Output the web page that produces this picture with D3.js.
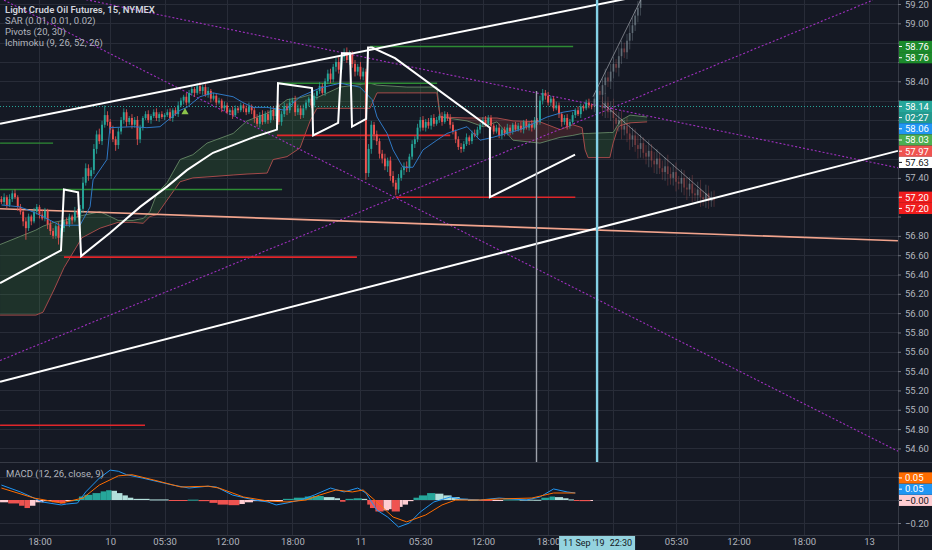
<!DOCTYPE html>
<html><head><meta charset="utf-8">
<script src="https://cdn.jsdelivr.net/npm/d3@7"></script>
<style>
html,body{margin:0;padding:0;background:#151924;}
svg{display:block;font-family:Roboto,"Liberation Sans",sans-serif;}
</style></head><body>
<svg id="c" width="932" height="550"></svg>
<script>
// ---------------- DATA ----------------
const priceTicks=[59.2,59.0,58.8,58.6,58.4,58.2,58.0,57.8,57.6,57.4,57.2,57.0,56.8,56.6,56.4,56.2,56.0,55.8,55.6,55.4,55.2,55.0,54.8,54.6];
const macdTicks=[0.2,0,-0.2];
const timeIdx=[14,40,60,83,107,132,154,177,201,225,248,271,295,319];
const timeLbl=["18:00","10","05:30","12:00","18:00","11","05:30","12:00","18:00","12","05:30","12:00","18:00","13"];
const cursorIdx=219;
const cursorDate="11 Sep '19", cursorTime="22:30";

const firstOpen=57.18;
const closes=[
57.15,57.20,57.12,57.18,57.24,57.20,57.10,57.05,56.95,56.88,
57.00,56.95,57.05,57.10,57.02,56.98,57.06,56.92,56.85,56.80,
56.90,56.78,56.88,56.95,56.92,57.00,56.96,57.05,57.02,57.08,
57.35,57.50,57.42,57.48,57.70,57.85,57.78,57.95,58.05,57.98,
57.90,57.80,57.74,57.88,58.00,58.08,57.98,58.02,57.95,58.00,
57.80,57.92,58.02,58.06,58.00,58.04,58.08,58.02,58.06,58.03,
58.05,58.08,58.02,58.10,58.06,58.15,58.20,58.24,58.18,58.28,
58.32,58.28,58.35,58.30,58.34,58.26,58.30,58.22,58.25,58.18,
58.20,58.12,58.15,58.08,58.10,58.05,58.12,58.10,58.15,58.12,
58.08,58.14,58.10,58.02,57.96,58.05,57.98,58.06,58.00,58.10,
58.04,58.12,57.98,58.06,58.14,58.10,58.18,58.20,58.08,58.12,
58.05,58.12,58.18,58.22,58.15,58.25,58.30,58.35,58.28,58.40,
58.48,58.42,58.55,58.60,58.52,58.65,58.70,58.62,58.68,58.58,
58.50,58.55,58.45,58.50,57.45,57.70,57.95,57.85,57.78,57.65,
57.60,57.52,57.58,57.42,57.35,57.28,57.40,57.48,57.52,57.50,
57.62,57.75,57.80,57.92,58.00,57.92,57.98,57.94,58.02,57.96,
58.00,58.04,57.98,58.06,58.02,57.95,57.88,57.80,57.72,57.70,
57.75,57.82,57.78,57.86,57.84,57.90,57.95,58.00,57.96,58.02,
57.94,57.88,57.92,57.84,57.90,57.86,57.92,57.88,57.95,57.90,
57.94,57.90,57.98,57.92,57.96,57.92,58.00,57.98,58.20,58.28,
58.25,58.18,58.22,58.12,58.15,58.06,57.98,58.02,57.94,57.98,
58.05,58.10,58.06,58.14,58.12,58.18,58.15,58.14];
// wick extents in cents above / below the candle body
const wickUp=[
3,4,2,5,3,4,2,3,2,4, 3,2,4,3,2,5,3,2,4,3, 2,4,3,2,4,3,2,5,3,4, 6,5,4,3,5,4,6,4,10,4,
3,4,3,4,3,4,3,2,4,3, 4,3,2,3,4,2,3,4,2,3, 2,3,4,2,3,4,3,2,4,3, 4,2,3,4,2,3,4,2,3,2,
3,2,4,3,2,4,3,2,3,2, 3,4,2,3,4,3,5,3,4,3, 4,3,5,3,4,3,4,3,5,4, 3,4,3,2,4,3,2,4,3,3,
4,5,3,4,5,3,4,5,4,3, 4,3,5,4,3,5,4,3,4,3, 4,5,3,4,5,3,4,3,4,5, 3,4,3,4,3,4,3,4,3,4,
3,2,4,3,2,4,3,2,3,4, 3,4,2,3,4,3,2,3,4,3, 3,2,3,4,2,3,4,3,2,3, 3,4,2,3,2,4,3,2,5,4,
3,4,3,2,4,3,2,3,4,3, 3,2,4,3,2,3,4,2];
const wickDn=[
2,3,4,2,3,2,4,3,5,12, 3,4,2,3,4,2,3,5,4,3, 3,7,3,4,2,3,4,2,3,4, 4,3,5,3,4,5,3,4,3,4,
4,3,6,4,3,4,5,3,4,3, 6,4,3,2,3,4,2,3,4,2, 3,2,3,4,2,3,2,4,3,2, 3,4,2,3,4,2,3,4,2,3,
2,4,3,2,3,4,2,3,2,4, 3,2,4,5,3,4,3,2,4,3, 4,3,3,4,3,5,3,4,4,3, 4,3,2,4,3,2,4,3,2,3,
3,4,3,5,4,3,4,3,5,4, 5,4,3,4,7,4,5,6,4,5, 5,4,6,5,4,6,4,3,5,4, 4,3,4,3,4,3,4,3,4,3,
2,3,4,2,3,4,3,4,3,4, 3,2,4,3,2,3,4,2,3,2, 4,3,2,3,4,3,2,4,3,2, 2,3,4,2,3,4,2,3,3,4,
4,3,4,3,2,4,5,3,4,3, 2,3,2,4,3,2,3,3];

// projected (ghost) bars after the cursor
const ghostUpStart=218, ghostUpOpen=58.14;
const ghostUpClose=[58.22,58.30,58.26,58.36,58.44,58.40,58.50,58.58,58.54,58.66,58.74,58.70,58.82,58.90,58.98,59.08,59.16,59.28];
const ghostUpWick=[6,8,5,7,9,6,8,7,5,9,8,6,7,9,8,6,7,8];
const ghostDnStart=221, ghostDnOpen=58.16;
const ghostDnClose=[58.12,58.18,58.08,58.10,58.02,57.96,58.00,57.90,57.94,57.86,57.80,57.84,57.74,57.70,57.76,57.66,57.62,57.68,57.58,57.54,57.60,57.50,57.46,57.52,57.44,57.40,57.46,57.36,57.34,57.40,57.30,57.28,57.34,57.24,57.22,57.28,57.20,57.18,57.24,57.16,57.20,57.17];
const ghostDnWick=[8,10,6,9,12,7,8,10,6,9,11,8,7,10,9,6,8,11,7,9,10,6,8,9,12,7,8,10,6,9,8,11,7,9,6,8,10,7,9,8,6,7];

// Ichimoku cloud
const cloudIdx=[-0.5,12.7,15.3,19.3,23.0,29.6,36.3,42.9,48.4,52.1,54.6,57.2,60.9,65.7,70.4,75.6,85.2,90.3,97.7,99.9,105.0,109.8,113.5,116.0,124.5,135.5,138.1,149.1,160.1,161.3,171.2,177.1,182.2,188.1,198.0,205.4,210.1,213.5,214.6,215.7,223.7,224.9,226.7,227.4,231.1,237.4];
const spanA=[56.71,56.86,56.90,56.94,56.96,57.01,57.05,56.96,56.96,56.98,57.05,57.24,57.35,57.59,57.64,57.76,57.86,57.99,58.07,58.10,58.21,58.23,58.26,58.23,58.34,58.38,58.36,58.34,58.34,58.03,57.99,57.93,57.98,57.79,57.76,57.82,57.84,57.86,57.86,57.86,57.87,57.87,57.95,57.99,58.05,58.03];
const spanB=[55.98,55.98,56.01,56.24,56.47,56.78,56.88,56.94,56.94,56.93,57.00,57.02,57.17,57.36,57.40,57.41,57.43,57.44,57.45,57.59,57.62,57.71,57.99,58.12,58.12,58.12,58.28,58.28,58.28,58.03,58.02,58.02,58.02,57.99,57.98,57.90,57.95,57.92,57.69,57.61,57.61,57.76,57.92,57.94,57.97,57.98];
// conversion line
const blueIdx=[0,6.8,12.4,21.5,28.9,32.6,33.7,38.8,39.9,48.4,53.5,58.3,60.9,65.7,68.2,73.0,77.8,85.2,88.8,92.5,97.6,104.3,109.8,117.1,124.5,131.8,136.3,138.1,141.8,144,147.6,151.3,155,160.1,163.8,171.2,176,180.7,190.7,200.6,206.5,210.9];
const blueVal=[57.12,57.10,57.04,56.91,56.91,57.10,57.38,57.59,57.92,57.93,57.92,57.93,57.99,58.10,58.13,58.24,58.28,58.24,58.18,58.13,58.13,58.10,58.24,58.33,58.38,58.34,58.21,58.03,57.86,57.69,57.51,57.51,57.69,57.79,57.86,57.93,57.79,57.82,57.90,58.03,58.08,58.10];
const sarMark=[67.5,58.08];

// drawings: [barIndex, price]
const upperChannel=[[-0.5,57.96],[257.5,59.41]];
const lowerChannel=[[-0.5,55.29],[329.6,57.68]];
const zigzag=[[-0.5,56.31],[21.9,56.65],[23.0,57.28],[28.2,57.25],[29.3,56.59],[39.9,56.83],[51.0,57.10],[60.9,57.31],[68.2,57.48],[77.8,57.66],[92.5,57.82],[101.3,57.90],[101.7,58.38],[114.2,58.33],[114.6,57.84],[123.8,57.97],[125.2,58.69],[128.2,58.69],[128.9,57.93],[134.1,58.01],[134.8,58.75],[136.3,58.75],[144.7,58.64],[179.6,57.92],[179.6,57.20],[210.9,57.64]];
const purpleLines=[
 [[0.96,59.24],[330.4,54.56]],
 [[-0.5,59.43],[330.4,57.50]],
 [[-0.5,55.51],[320.4,59.24]]];
const salmonLine=[[-0.5,57.08],[329.6,56.75]];
const ghostLines=[[[217.5,58.24],[235,59.24]],[[220.8,58.18],[261.6,57.17]]];
// pivot levels: [fromIdx, toIdx, price]
const pivotRed=[[23,130.7,56.58],[-0.5,52.8,54.84],[145,211,57.20],[101.3,165,57.84]];
const pivotGreen=[[135.5,210.2,58.76],[-0.5,103.2,57.28],[-0.5,19,57.76],[101.7,160.2,58.38]];
const grayVertical={i:196.5,from:58.30};
const lastPrice=58.14;

// MACD
const macdIdx=[0,7,12,15,22,24,28,31,36,40,43,46,52,58,63,69,76,79,85,93,98,101,105,110,115,121,126,131,134,138,142,146,150,154,159,165,169,176,183,193,198,203,208,211];
const macdVal=[0.13,0.07,0.017,-0.017,-0.043,-0.035,-0.026,0.07,0.19,0.26,0.25,0.22,0.19,0.157,0.13,0.104,0.12,0.113,0.043,0,-0.017,-0.043,-0.026,0,0.043,0.104,0.07,0.104,0.061,-0.087,-0.148,-0.235,-0.2,-0.104,-0.017,0.026,0.009,0,0.017,0,0.026,0.096,0.07,0.061];
const sigIdx=[0,12,22,30,36,43,48,56,66,76,80,89,98,105,112,117,123,129,133,138,144,149,156,162,167,176,183,195,203,211];
const sigVal=[0.104,0.017,-0.026,0.017,0.13,0.21,0.22,0.174,0.113,0.12,0.104,0.026,-0.009,-0.017,0,0.043,0.087,0.07,0.087,-0.017,-0.148,-0.19,-0.13,-0.043,0,0,0.009,0.017,0.061,0.061];
const histIdx=[0,3,7,9,11,13,16,19,22,24,27,29,31,34,37,39,41,43,45,47,49,55,62,69,73,77,80,84,88,90,93,99,104,108,112,115,119,123,125,127,130,133,135,136,138,141,143,144,147,148,150,152,154,157,160,163,166,169,172,176,181,185,191,196,199,202,204,207,209,211,213,217];
const histVal=[-0.02,-0.03,-0.05,-0.07,-0.05,-0.02,-0.01,-0.02,-0.03,-0.01,0,0.03,0.045,0.06,0.075,0.085,0.08,0.06,0.04,0.02,0.01,0.005,-0.005,0.003,-0.01,-0.025,-0.04,-0.045,-0.035,-0.02,-0.01,-0.005,0.01,0.02,0.03,0.035,0.025,0.015,-0.015,0.01,0.015,0.01,-0.04,-0.07,-0.1,-0.09,-0.08,-0.1,-0.06,-0.04,-0.01,0.02,0.04,0.06,0.055,0.04,0.025,0.01,0.003,-0.005,-0.003,0.005,0.003,0.002,0.02,0.03,0.025,0.015,0.005,-0.008,-0.01,-0.003];

const priceLabels=[
 {v:58.76,t:"58.76",bg:"#1c8a2b",fg:"#ffffff"},
 {v:58.76,t:"58.76",bg:"#1c8a2b",fg:"#ffffff"},
 {v:58.14,t:"58.14",bg:"#26a69a",fg:"#ffffff"},
 {v:58.14,t:"02:27",bg:"#22998e",fg:"#ffffff"},
 {v:58.06,t:"58.06",bg:"#2196f3",fg:"#ffffff"},
 {v:58.03,t:"58.03",bg:"#4caf50",fg:"#ffffff"},
 {v:57.97,t:"57.97",bg:"#ef5350",fg:"#ffffff"},
 {v:57.63,t:"57.63",bg:"#ffffff",fg:"#131722"},
 {v:57.20,t:"57.20",bg:"#f01d1d",fg:"#ffffff"},
 {v:57.20,t:"57.20",bg:"#f01d1d",fg:"#ffffff"}];
const macdLabels=[
 {v:-0.003,t:"\u22120.00",bg:"#ffcdd2",fg:"#131722"},
 {v:0.05,t:"0.05",bg:"#2196f3",fg:"#ffffff"},
 {v:0.05,t:"0.05",bg:"#ff6d00",fg:"#ffffff"}];
const legendLines=["Light Crude Oil Futures, 15, NYMEX","SAR (0.01, 0.01, 0.02)","Pivots (20, 30)","Ichimoku (9, 26, 52, 26)"];
const macdLegend="MACD (12, 26, close, 9)";

// ---------------- DRAW ----------------
const W=932,H=550,PR=898,MAIN_B=462,MACD_B=535;
const BG="#151924",GRID="#282c38",TXT="#b2b5be",FONT="Roboto, 'Liberation Sans', sans-serif";
const x=d3.scaleLinear().domain([0,330]).range([1.4,1.4+330*2.72]);
const y=d3.scaleLinear().domain([54.6,59.2]).range([448.4,4]);
const ym=d3.scaleLinear().domain([-0.2,0.2]).range([523,477]);
const svg=d3.select("#c");
svg.append("rect").attr("width",W).attr("height",H).attr("fill",BG);
const defs=svg.append("defs");
defs.append("clipPath").attr("id","cm").append("rect").attr("x",0).attr("y",0).attr("width",PR).attr("height",MAIN_B);
defs.append("clipPath").attr("id","cd").append("rect").attr("x",0).attr("y",MAIN_B+1).attr("width",PR).attr("height",MACD_B-MAIN_B-1);
const snap=v=>Math.round(v)+0.5;

// grid
const grid=svg.append("g").style("stroke",GRID).attr("stroke-width",1);
priceTicks.forEach(p=>grid.append("line").attr("x1",0).attr("x2",PR).attr("y1",snap(y(p))).attr("y2",snap(y(p))));
macdTicks.forEach(p=>grid.append("line").attr("x1",0).attr("x2",PR).attr("y1",snap(ym(p))).attr("y2",snap(ym(p))));
timeIdx.forEach(i=>grid.append("line").attr("x1",snap(x(i))).attr("x2",snap(x(i))).attr("y1",0).attr("y2",MACD_B));

const line=d3.line().x(d=>x(d[0])).y(d=>y(d[1]));
const main=svg.append("g").attr("clip-path","url(#cm)");

// cloud
const cloud=cloudIdx.map((i,k)=>({i,a:spanA[k],b:spanB[k]}));
main.append("path").datum(cloud).style("fill","rgba(76,175,80,0.17)")
  .attr("d",d3.area().x(d=>x(d.i)).y0(d=>y(Math.min(d.a,d.b))).y1(d=>y(d.a)));
main.append("path").datum(cloud).style("fill","rgba(239,83,80,0.17)")
  .attr("d",d3.area().x(d=>x(d.i)).y0(d=>y(Math.min(d.a,d.b))).y1(d=>y(d.b)));
main.append("path").datum(cloud).style("fill","none").style("stroke","#5e7d5f").attr("stroke-width",1)
  .attr("d",d3.line().x(d=>x(d.i)).y(d=>y(d.a)));
main.append("path").datum(cloud).style("fill","none").style("stroke","#a44a4a").attr("stroke-width",1)
  .attr("d",d3.line().x(d=>x(d.i)).y(d=>y(d.b)));

// purple dotted lines
purpleLines.forEach(l=>main.append("path").datum(l).attr("d",line).style("fill","none")
  .style("stroke","#a030c0").attr("stroke-width",1.1).attr("stroke-dasharray","2,2"));
// salmon line
main.append("path").datum(salmonLine).attr("d",line).style("fill","none").style("stroke","#f2a48d").attr("stroke-width",1.6);
// pivots
pivotRed.forEach(p=>main.append("line").attr("x1",x(p[0])).attr("x2",x(p[1])).attr("y1",y(p[2])).attr("y2",y(p[2]))
  .style("stroke","#e0262a").attr("stroke-width",1.6));
pivotGreen.forEach(p=>main.append("line").attr("x1",x(p[0])).attr("x2",x(p[1])).attr("y1",y(p[2])).attr("y2",y(p[2]))
  .style("stroke","#2e8b34").attr("stroke-width",1.4));
// last price dotted line
main.append("line").attr("x1",0).attr("x2",PR).attr("y1",snap(y(lastPrice))).attr("y2",snap(y(lastPrice)))
  .style("stroke","#26a69a").attr("stroke-width",1).attr("stroke-dasharray","1,2");

// candles
const candles=closes.map((c,i)=>{const o=i?closes[i-1]:firstOpen;return{i,o,c,h:Math.max(o,c)+wickUp[i]/100,l:Math.min(o,c)-wickDn[i]/100};});
function drawCandles(g,data,up,dn,op){
  data.forEach(d=>{
    const col=d.c>=d.o?up:dn, px=x(d.i);
    g.append("line").attr("x1",px).attr("x2",px).attr("y1",y(d.h)).attr("y2",y(d.l)).style("stroke",col).attr("stroke-width",0.8).attr("opacity",op);
    const top=y(Math.max(d.o,d.c)), bot=y(Math.min(d.o,d.c));
    g.append("rect").attr("x",px-0.95).attr("width",1.9).attr("y",top).attr("height",Math.max(1,bot-top)).style("fill",col).attr("opacity",op);
  });
}
drawCandles(main.append("g"),candles,"#26a69a","#ef5350",1);
// ghost bars
const gUp=ghostUpClose.map((c,k)=>{const o=k?ghostUpClose[k-1]:ghostUpOpen;return{i:ghostUpStart+k,o,c,h:Math.max(o,c)+ghostUpWick[k]/100,l:Math.min(o,c)-ghostUpWick[k]/100};});
const gDn=ghostDnClose.map((c,k)=>{const o=k?ghostDnClose[k-1]:ghostDnOpen;return{i:ghostDnStart+k,o,c,h:Math.max(o,c)+ghostDnWick[k]/100,l:Math.min(o,c)-ghostDnWick[k]/100};});
const gg=main.append("g");
drawCandles(gg,gUp,"#9fb0b8","#c85a57",0.38);
drawCandles(gg,gDn,"#9fb0b8","#c85a57",0.38);
ghostLines.forEach(l=>main.append("path").datum(l).attr("d",line).style("fill","none").style("stroke","#c4c8d0").attr("stroke-width",1).attr("opacity",0.55));

// conversion line
main.append("path").datum(blueIdx.map((i,k)=>[i,blueVal[k]])).attr("d",line).style("fill","none").style("stroke","#2f78c4").attr("stroke-width",1);
// SAR marker
main.append("path").attr("d",d3.symbol(d3.symbolTriangle,22)()).attr("transform",`translate(${x(sarMark[0])},${y(sarMark[1])})`).style("fill","#8bc34a");

// white drawings
[upperChannel,lowerChannel,zigzag].forEach(l=>main.append("path").datum(l).attr("d",line).style("fill","none")
  .style("stroke","#ffffff").attr("stroke-width",2).attr("stroke-linejoin","miter"));
// vertical lines
main.append("line").attr("x1",snap(x(grayVertical.i))).attr("x2",snap(x(grayVertical.i))).attr("y1",y(grayVertical.from)).attr("y2",MAIN_B)
  .style("stroke","#9ea2ab").attr("stroke-width",1.4);
main.append("line").attr("x1",x(cursorIdx)).attr("x2",x(cursorIdx)).attr("y1",0).attr("y2",MAIN_B)
  .style("stroke","#84d1e6").attr("stroke-width",2.4);

// MACD pane
const mp=svg.append("g").attr("clip-path","url(#cd)");
const hist=histIdx.map((i,k)=>({i,v:histVal[k],p:k?histVal[k-1]:histVal[k],n:k<histIdx.length-1?histIdx[k+1]:i+1}));
hist.forEach(d=>{
  const col=d.v>=0?(d.v>=d.p?"#26a69a":"#b2dfdb"):(d.v<d.p?"#ef5350":"#ffcdd2");
  const y0=ym(0),y1=ym(d.v);
  mp.append("rect").attr("x",x(d.i)-1.36).attr("width",Math.max(1,x(d.n)-x(d.i))).attr("y",Math.min(y0,y1)).attr("height",Math.max(1,Math.abs(y1-y0))).style("fill",col);
});
const mline=d3.line().x(d=>x(d[0])).y(d=>ym(d[1]));
mp.append("path").datum(macdIdx.map((i,k)=>[i,macdVal[k]])).attr("d",mline).style("fill","none").style("stroke","#2196f3").attr("stroke-width",1);
mp.append("path").datum(sigIdx.map((i,k)=>[i,sigVal[k]])).attr("d",mline).style("fill","none").style("stroke","#ff6d00").attr("stroke-width",1);

// pane borders
svg.append("line").attr("x1",0).attr("x2",W).attr("y1",MAIN_B+0.5).attr("y2",MAIN_B+0.5).style("stroke","#363a45");
svg.append("line").attr("x1",0).attr("x2",W).attr("y1",MACD_B+0.5).attr("y2",MACD_B+0.5).style("stroke","#363a45");
svg.append("line").attr("x1",PR+0.5).attr("x2",PR+0.5).attr("y1",0).attr("y2",H).style("stroke","#363a45");

// value label positions (stacked so they do not overlap)
function stack(list,scale,dir){
  let prev=null;const hgt=11.2;
  return list.map(l=>{let yc=scale(l.v);
    if(prev!==null){yc=dir>0?Math.max(yc,prev+hgt):Math.min(yc,prev-hgt);}
    prev=yc;return Object.assign({yc},l);});
}
const pl=stack(priceLabels,y,1), ml=stack(macdLabels,ym,-1);

// axes
function styleAxis(g){g.attr("font-family",FONT).attr("font-size",9.5);g.select(".domain").remove();
  g.selectAll("text").style("fill",TXT);g.selectAll("line").style("stroke","#6a6e78");}
const minus=v=>d3.format(".2f")(v).replace("-","\u2212");
function hideCovered(g,labels,scale){
  g.selectAll(".tick").filter(d=>labels.some(l=>Math.abs(scale(d)-l.yc)<10)).select("text").remove();
}
const ay=svg.append("g").attr("transform",`translate(${PR},0)`).call(d3.axisRight(y).tickValues(priceTicks).tickFormat(minus).tickSize(3).tickPadding(4)).call(styleAxis);
hideCovered(ay,pl,y);
const am=svg.append("g").attr("transform",`translate(${PR},0)`).call(d3.axisRight(ym).tickValues(macdTicks).tickFormat(minus).tickSize(3).tickPadding(4)).call(styleAxis);
hideCovered(am,ml,ym);
const cx=x(cursorIdx);
const at=svg.append("g").attr("transform",`translate(0,${MACD_B})`).call(d3.axisBottom(x).tickValues(timeIdx).tickFormat((d,k)=>timeLbl[k]).tickSize(0).tickPadding(3)).call(styleAxis);
at.selectAll(".tick").filter(d=>Math.abs(x(d)-cx)<40).select("text").remove();

function drawLabels(list){
  list.forEach(l=>{
    const yc=l.yc;
    svg.append("rect").attr("x",PR+1).attr("y",yc-5.6).attr("width",W-PR-1).attr("height",11.2).style("fill",l.bg);
    svg.append("line").attr("x1",PR+1).attr("x2",PR+4).attr("y1",yc).attr("y2",yc).style("stroke",l.fg);
    svg.append("text").attr("x",PR+7).attr("y",yc).attr("dy","0.35em").style("fill",l.fg)
      .attr("font-family",FONT).attr("font-size",9.5).text(l.t);
  });
}
drawLabels(pl);
drawLabels(ml);

// crosshair time label
svg.append("rect").attr("x",cx-38).attr("y",MACD_B+1).attr("width",76).attr("height",H-MACD_B-1).style("fill","#94d3df");
svg.append("text").attr("x",cx-34).attr("y",543).attr("dy","0.35em").attr("text-anchor","start").style("fill","#131722")
  .attr("font-family",FONT).attr("font-size",9).text(cursorDate);
svg.append("text").attr("x",cx+35).attr("y",543).attr("dy","0.35em").attr("text-anchor","end").style("fill","#131722")
  .attr("font-family",FONT).attr("font-size",9).text(cursorTime);

// legends
legendLines.forEach((t,k)=>svg.append("text").attr("x",5).attr("y",10+k*10.8).attr("dy","0.35em")
  .style("fill",k?"#b2b5be":"#d1d4dc").attr("font-weight",k?400:600).attr("font-family",FONT).attr("font-size",9.5).text(t));
svg.append("text").attr("x",6).attr("y",474).attr("dy","0.35em").style("fill","#b2b5be").attr("font-family",FONT).attr("font-size",9.5).text(macdLegend);
</script>
</body></html>
